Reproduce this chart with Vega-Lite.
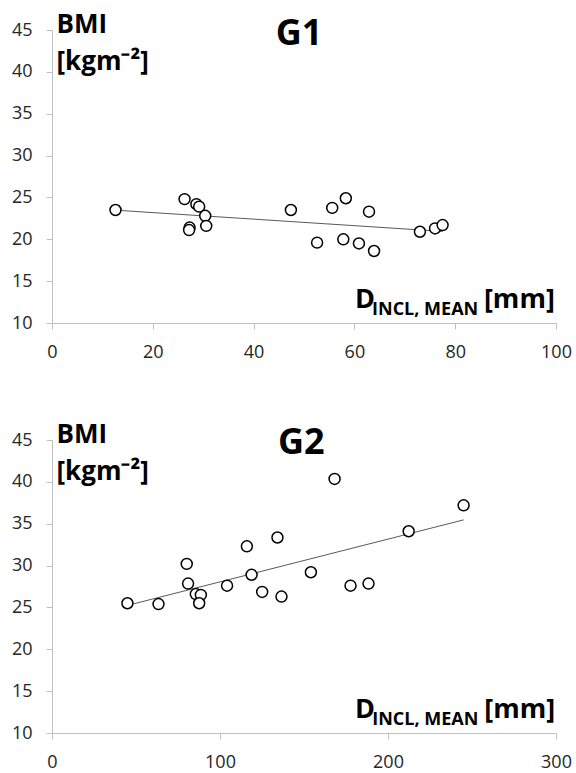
{
  "$schema": "https://vega.github.io/schema/vega-lite/v6.json",
  "autosize": {"type": "none"},
  "padding": {"left": 52, "top": 30, "right": 524, "bottom": 743},
  "background": "white",
  "bounds": "flush",
  "spacing": 117,
  "config": {
    "view": {"stroke": null},
    "font": "Open Sans",
    "text": {"font": "Open Sans"},
    "axis": {
      "grid": false,
      "domainColor": "#c0c0c0",
      "tickColor": "#c0c0c0",
      "tickSize": 6,
      "labelFontSize": 18,
      "labelColor": "#262626",
      "labelFont": "Open Sans",
      "labelOverlap": false,
      "labelFlush": false
    }
  },
  "datasets": {
    "g1": [
      {"D": 12.6, "BMI": 23.5}, {"D": 26.3, "BMI": 24.8}, {"D": 28.65, "BMI": 24.2}, {"D": 29.2, "BMI": 23.9},
      {"D": 30.4, "BMI": 22.8}, {"D": 27.3, "BMI": 21.4}, {"D": 27.2, "BMI": 21.1}, {"D": 30.6, "BMI": 21.6},
      {"D": 47.4, "BMI": 23.5}, {"D": 55.6, "BMI": 23.75}, {"D": 58.3, "BMI": 24.9}, {"D": 62.9, "BMI": 23.3},
      {"D": 52.6, "BMI": 19.6}, {"D": 57.8, "BMI": 20.0}, {"D": 60.9, "BMI": 19.5}, {"D": 63.9, "BMI": 18.6},
      {"D": 73.0, "BMI": 20.9}, {"D": 76.0, "BMI": 21.3}, {"D": 77.5, "BMI": 21.7}
    ],
    "g2": [
      {"D": 44.9, "BMI": 25.5}, {"D": 63.4, "BMI": 25.4}, {"D": 80.2, "BMI": 30.2}, {"D": 81.0, "BMI": 27.85},
      {"D": 85.6, "BMI": 26.6}, {"D": 88.6, "BMI": 26.5}, {"D": 87.6, "BMI": 25.5}, {"D": 104.2, "BMI": 27.6},
      {"D": 116.0, "BMI": 32.3}, {"D": 118.8, "BMI": 28.9}, {"D": 125.1, "BMI": 26.85}, {"D": 134.2, "BMI": 33.35},
      {"D": 136.6, "BMI": 26.3}, {"D": 154.1, "BMI": 29.2}, {"D": 168.2, "BMI": 40.35}, {"D": 177.7, "BMI": 27.6},
      {"D": 188.4, "BMI": 27.85}, {"D": 212.3, "BMI": 34.1}, {"D": 245.0, "BMI": 37.2}
    ],
    "lab1": [{"t": "G1", "part": "title"}, {"t": "D", "part": "main"}, {"t": "INCL, MEAN", "part": "sub"}, {"t": "[mm]", "part": "unit"}],
    "lab2": [{"t": "G2", "part": "title"}, {"t": "D", "part": "main"}, {"t": "INCL, MEAN", "part": "sub"}, {"t": "[mm]", "part": "unit"}]
  },
  "vconcat": [
    {
      "width": 504,
      "height": 293,
      "layer": [
        {"data": {"name": "g1"}, "transform": [{"regression": "BMI", "on": "D"}],
          "mark": {"type": "line", "color": "#595959", "strokeWidth": 1},
          "encoding": {
            "x": {"field": "D", "type": "quantitative", "scale": {"domain": [0, 100], "nice": false},
              "axis": {"values": [0, 20, 40, 60, 80, 100], "labelPadding": 14, "title": null}},
            "y": {"field": "BMI", "type": "quantitative", "scale": {"domain": [10, 45], "nice": false, "zero": false},
              "axis": {"values": [10, 15, 20, 25, 30, 35, 40, 45], "labelPadding": 14,
                "title": ["BMI", "[kgm⁻²]"], "titleAngle": 0, "titleAlign": "left", "titleBaseline": "alphabetic",
                "titleX": 4, "titleY": 2, "titleFontSize": 26, "titleFontWeight": "bold", "titleLineHeight": 37,
                "titleColor": "black", "titleFont": "Open Sans"}}
          }},
        {"data": {"name": "g1"},
          "mark": {"type": "point", "shape": "circle", "filled": true, "fill": "white", "stroke": "black", "strokeWidth": 1.5, "size": 120, "opacity": 1},
          "encoding": {"x": {"field": "D", "type": "quantitative"}, "y": {"field": "BMI", "type": "quantitative"}}},
        {"data": {"name": "lab1"}, "transform": [{"filter": "datum.part == 'title'"}],
          "mark": {"type": "text", "fontSize": 36, "fontWeight": "bold", "align": "center", "baseline": "alphabetic", "fill": "black"},
          "encoding": {"x": {"datum": 49}, "y": {"datum": 43.2}, "text": {"field": "t"}}},
        {"data": {"name": "lab1"}, "transform": [{"filter": "datum.part == 'main'"}],
          "mark": {"type": "text", "fontSize": 27, "fontWeight": "bold", "align": "left", "baseline": "alphabetic", "fill": "black"},
          "encoding": {"x": {"datum": 60.1}, "y": {"datum": 11.8}, "text": {"field": "t"}}},
        {"data": {"name": "lab1"}, "transform": [{"filter": "datum.part == 'sub'"}],
          "mark": {"type": "text", "fontSize": 18, "fontWeight": "bold", "align": "left", "baseline": "alphabetic", "fill": "black"},
          "encoding": {"x": {"datum": 63.5}, "y": {"datum": 10.92}, "text": {"field": "t"}}},
        {"data": {"name": "lab1"}, "transform": [{"filter": "datum.part == 'unit'"}],
          "mark": {"type": "text", "fontSize": 27, "fontWeight": "bold", "align": "left", "baseline": "alphabetic", "fill": "black"},
          "encoding": {"x": {"datum": 85.7}, "y": {"datum": 11.8}, "text": {"field": "t"}}}
      ]
    },
    {
      "width": 504,
      "height": 293,
      "layer": [
        {"data": {"name": "g2"}, "transform": [{"regression": "BMI", "on": "D"}],
          "mark": {"type": "line", "color": "#595959", "strokeWidth": 1},
          "encoding": {
            "x": {"field": "D", "type": "quantitative", "scale": {"domain": [0, 300], "nice": false},
              "axis": {"values": [0, 100, 200, 300], "labelPadding": 14, "title": null}},
            "y": {"field": "BMI", "type": "quantitative", "scale": {"domain": [10, 45], "nice": false, "zero": false},
              "axis": {"values": [10, 15, 20, 25, 30, 35, 40, 45], "labelPadding": 14,
                "title": ["BMI", "[kgm⁻²]"], "titleAngle": 0, "titleAlign": "left", "titleBaseline": "alphabetic",
                "titleX": 4, "titleY": 2, "titleFontSize": 26, "titleFontWeight": "bold", "titleLineHeight": 37,
                "titleColor": "black", "titleFont": "Open Sans"}}
          }},
        {"data": {"name": "g2"},
          "mark": {"type": "point", "shape": "circle", "filled": true, "fill": "white", "stroke": "black", "strokeWidth": 1.5, "size": 120, "opacity": 1},
          "encoding": {"x": {"field": "D", "type": "quantitative"}, "y": {"field": "BMI", "type": "quantitative"}}},
        {"data": {"name": "lab2"}, "transform": [{"filter": "datum.part == 'title'"}],
          "mark": {"type": "text", "fontSize": 36, "fontWeight": "bold", "align": "center", "baseline": "alphabetic", "fill": "black"},
          "encoding": {"x": {"datum": 148.4}, "y": {"datum": 43.3}, "text": {"field": "t"}}},
        {"data": {"name": "lab2"}, "transform": [{"filter": "datum.part == 'main'"}],
          "mark": {"type": "text", "fontSize": 27, "fontWeight": "bold", "align": "left", "baseline": "alphabetic", "fill": "black"},
          "encoding": {"x": {"datum": 180.3}, "y": {"datum": 11.8}, "text": {"field": "t"}}},
        {"data": {"name": "lab2"}, "transform": [{"filter": "datum.part == 'sub'"}],
          "mark": {"type": "text", "fontSize": 18, "fontWeight": "bold", "align": "left", "baseline": "alphabetic", "fill": "black"},
          "encoding": {"x": {"datum": 190.6}, "y": {"datum": 10.92}, "text": {"field": "t"}}},
        {"data": {"name": "lab2"}, "transform": [{"filter": "datum.part == 'unit'"}],
          "mark": {"type": "text", "fontSize": 27, "fontWeight": "bold", "align": "left", "baseline": "alphabetic", "fill": "black"},
          "encoding": {"x": {"datum": 257.3}, "y": {"datum": 11.8}, "text": {"field": "t"}}}
      ]
    }
  ]
}
